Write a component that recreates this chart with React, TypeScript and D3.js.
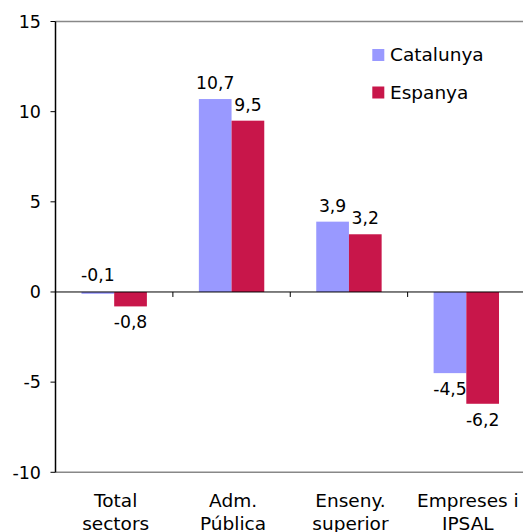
import React from "react";
import * as d3 from "d3";

const categories = [["Total", "sectors"], ["Adm.", "Pública"], ["Enseny.", "superior"], ["Empreses i", "IPSAL"]];
const seriesNames = ["Catalunya", "Espanya"];
const catalunya = [-0.1, 10.7, 3.9, -4.5];
const espanya = [-0.8, 9.5, 3.2, -6.2];
const yTicks = [-10, -5, 0, 5, 10, 15];
const colors = ["#9999FF", "#C8164A"];

const W = 523;
const H = 532;
const left = 55.5;
const right = 525;
const top = 21.5;
const bottom = 472.3;
const font = "'DejaVu Sans', Verdana, sans-serif";

const fmt = (v: number) => v.toFixed(1).replace(".", ",");

const App = () => {
  const x = d3.scaleBand().domain(categories.map((c, i) => String(i))).range([left, right]);
  const y = d3.scaleLinear().domain([-10, 15]).range([bottom, top]);
  const barW = 32.7;
  const series = [catalunya, espanya];

  return (
    <svg width={W} height={H} style={{ position: "absolute", left: 0, top: 0 }}>
      <rect x={0} y={0} width={W} height={H} fill="white" />
      {/* plot frame */}
      <line x1={left} x2={right} y1={top} y2={top} stroke="#888" strokeWidth={1.5} />
      <line x1={left} x2={right} y1={bottom} y2={bottom} stroke="#888" strokeWidth={1.5} />
      {series.map((vals, s) =>
        vals.map((v, i) => {
          const cx = (x(String(i)) as number) + x.bandwidth() / 2;
          const bx = cx - barW + s * barW;
          const y0 = y(0);
          const y1 = y(v);
          return (
            <rect
              key={`${s}-${i}`}
              x={bx}
              y={Math.min(y0, y1)}
              width={barW}
              height={Math.abs(y1 - y0)}
              fill={colors[s]}
            />
          );
        })
      )}
      {/* zero line + category ticks */}
      <line x1={left} x2={right} y1={y(0)} y2={y(0)} stroke="#000" strokeWidth={1} />
      {categories.slice(1).map((c, i) => (
        <line
          key={i}
          x1={x(String(i + 1)) as number}
          x2={x(String(i + 1)) as number}
          y1={y(0)}
          y2={y(0) + 5}
          stroke="#000"
        />
      ))}
      {/* y axis */}
      <line x1={left} x2={left} y1={top} y2={bottom} stroke="#000" strokeWidth={1.5} />
      {yTicks.map((t) => (
        <g key={t}>
          <line x1={left - 5} x2={left} y1={y(t)} y2={y(t)} stroke="#000" />
          <text x={41} y={y(t)} dy="0.36em" textAnchor="end" fontFamily={font} fontSize={17.5} fill="#000">
            {t}
          </text>
        </g>
      ))}
      {/* data labels */}
      {series.map((vals, s) =>
        vals.map((v, i) => {
          const cx = (x(String(i)) as number) + x.bandwidth() / 2 - barW / 2 + s * barW;
          let ly: number;
          if (v >= 0) ly = y(v) - 10;
          else if (Math.abs(v) < 0.5) ly = y(0) - 11;
          else ly = y(v) + 22;
          return (
            <text
              key={`l${s}-${i}`}
              x={cx}
              y={ly}
              textAnchor="middle"
              fontFamily={font}
              fontSize={17.2}
              fill="#000"
            >
              {fmt(v)}
            </text>
          );
        })
      )}
      {/* category labels */}
      {categories.map((c, i) => {
        const cx = (x(String(i)) as number) + x.bandwidth() / 2 + 1.5;
        return (
          <text key={i} x={cx} y={506.5} textAnchor="middle" fontFamily={font} fontSize={18.5} fill="#000">
            <tspan x={cx}>{c[0]}</tspan>
            <tspan x={cx} dy={23}>{c[1]}</tspan>
          </text>
        );
      })}
      {/* legend */}
      {seriesNames.map((n, s) => (
        <g key={n} transform={`translate(372.3, ${49 + s * 37.5})`}>
          <rect x={0} y={0} width={12} height={12} fill={colors[s]} />
          <text x={17.7} y={12} fontFamily={font} fontSize={18.5} fill="#000">
            {n}
          </text>
        </g>
      ))}
    </svg>
  );
};

export default App;
